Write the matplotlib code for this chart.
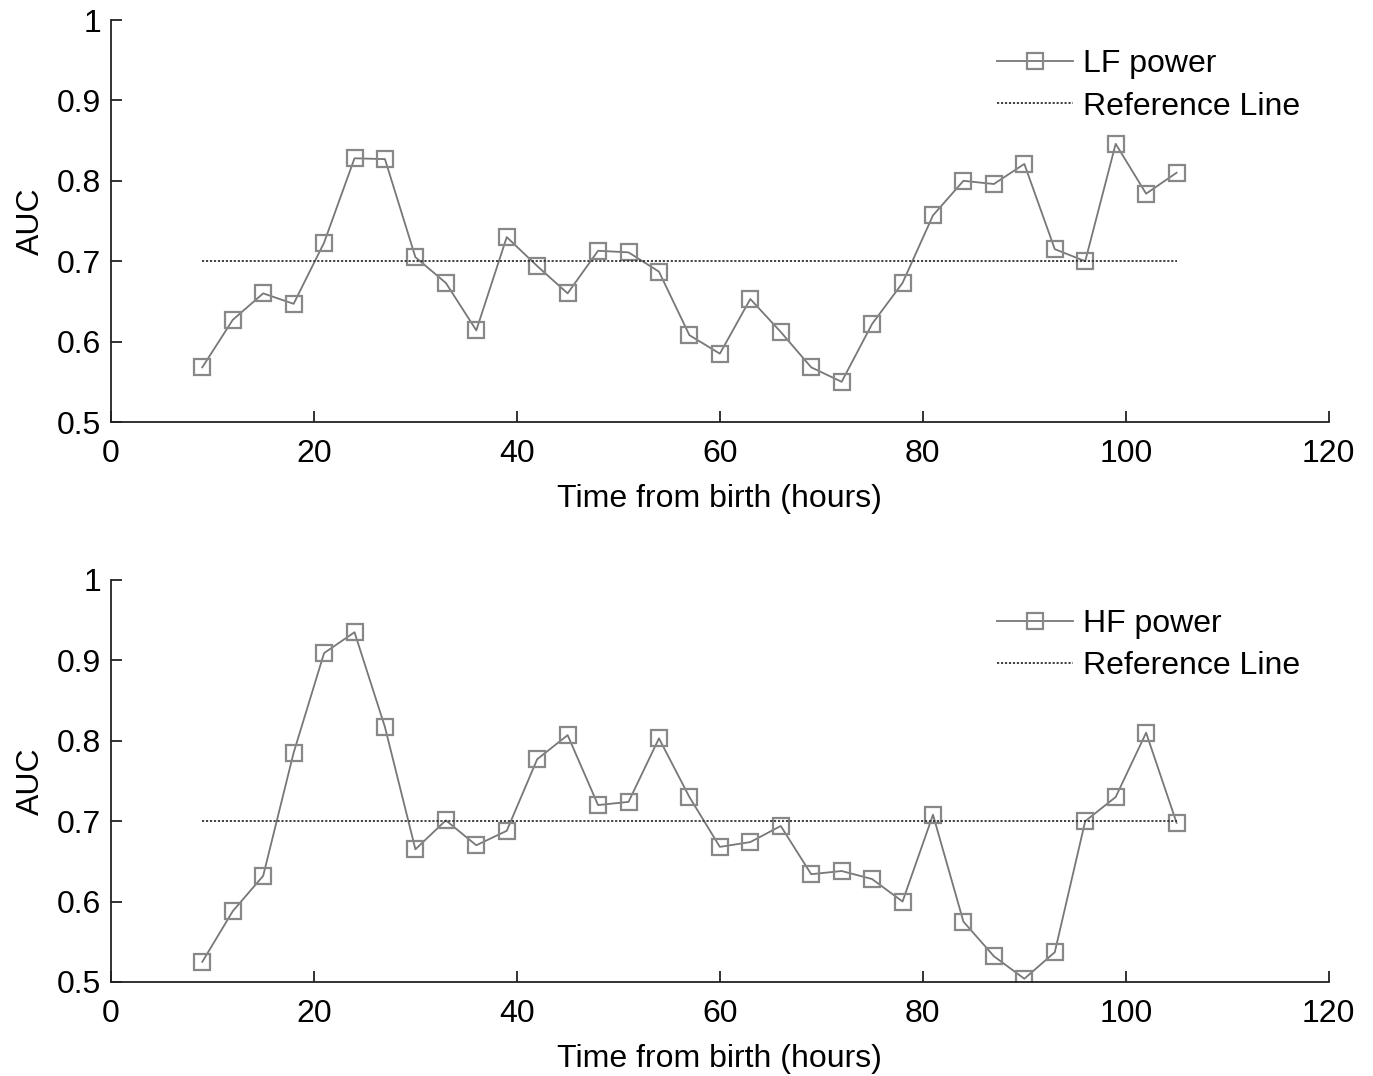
import numpy as np
import matplotlib
matplotlib.use("Agg")
import matplotlib.pyplot as plt

plt.rcParams["font.family"] = ["Liberation Sans", "DejaVu Sans"]

hours = [9, 12, 15, 18, 21, 24, 27, 30, 33, 36, 39, 42, 45, 48, 51, 54, 57,
         60, 63, 66, 69, 72, 75, 78, 81, 84, 87, 90, 93, 96, 99, 102, 105]

lf_auc = [0.568, 0.627, 0.660, 0.647, 0.723, 0.828, 0.827, 0.705, 0.673,
          0.614, 0.730, 0.694, 0.660, 0.713, 0.711, 0.687, 0.608, 0.585,
          0.653, 0.612, 0.568, 0.550, 0.622, 0.673, 0.757, 0.800, 0.796,
          0.821, 0.715, 0.700, 0.846, 0.784, 0.810]

hf_auc = [0.525, 0.588, 0.632, 0.785, 0.909, 0.935, 0.817, 0.665, 0.701,
          0.670, 0.688, 0.777, 0.807, 0.720, 0.724, 0.803, 0.730, 0.668,
          0.674, 0.694, 0.634, 0.638, 0.628, 0.600, 0.708, 0.575, 0.532,
          0.504, 0.537, 0.700, 0.730, 0.810, 0.698]

ref_value = 0.7
yticks = [0.5, 0.6, 0.7, 0.8, 0.9, 1.0]
ytick_labels = ["0.5", "0.6", "0.7", "0.8", "0.9", "1"]
xticks = [0, 20, 40, 60, 80, 100, 120]

fig = plt.figure(figsize=(13.73, 10.76), dpi=100)
ax_top = fig.add_axes([0.0808, 0.6078, 0.887, 0.3736])
ax_bot = fig.add_axes([0.0808, 0.0874, 0.887, 0.3736])


def draw_panel(ax, values, label):
    ax.plot(hours, values, color="#777777", lw=1.3, marker="s", ms=11,
            mfc="none", mec="#888888", mew=1.6, label=label)
    ax.plot([hours[0], hours[-1]], [ref_value, ref_value], color="#333333",
            lw=1.3, linestyle=(0, (1.2, 1.0)), label="Reference Line")
    ax.set_xlim(0, 120)
    ax.set_ylim(0.5, 1.0)
    ax.set_xticks(xticks)
    ax.set_yticks(yticks)
    ax.set_yticklabels(ytick_labels)
    for side in ["top", "right"]:
        ax.spines[side].set_visible(False)
    for side in ["left", "bottom"]:
        ax.spines[side].set_linewidth(1.3)
        ax.spines[side].set_color("#222222")
    ax.tick_params(direction="in", length=8, width=1.3, labelsize=23,
                   color="#222222", pad=7)
    ax.tick_params(axis="x", pad=12)
    ax.set_xlabel("Time from birth (hours)", fontsize=23, labelpad=11)
    ax.set_ylabel("AUC", fontsize=23, labelpad=8)
    leg = ax.legend(loc="upper right", bbox_to_anchor=(1.0, 1.0),
                    frameon=False, fontsize=23, handlelength=2.4,
                    handletextpad=0.3, labelspacing=0.4)
    return leg


draw_panel(ax_top, lf_auc, "LF power")
draw_panel(ax_bot, hf_auc, "HF power")

fig.savefig("out.png", dpi=100)
